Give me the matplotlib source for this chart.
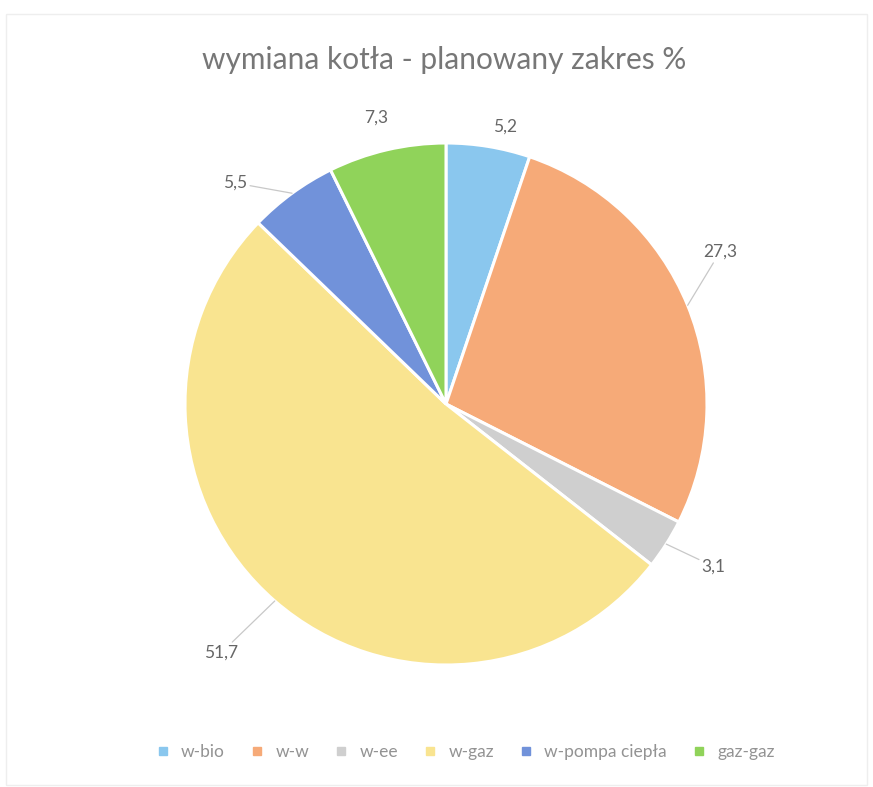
import numpy as np
import matplotlib
matplotlib.use("Agg")
import matplotlib.pyplot as plt
from matplotlib.lines import Line2D
from matplotlib.patches import Rectangle

title = "wymiana kotła - planowany zakres %"
categories = ["w-bio", "w-w", "w-ee", "w-gaz", "w-pompa ciepła", "gaz-gaz"]
values = [5.2, 27.3, 3.1, 51.7, 5.5, 7.3]
value_labels = ["5,2", "27,3", "3,1", "51,7", "5,5", "7,3"]

colors = ["#8ac7ee", "#f6aa78", "#cfcfcf", "#f9e490", "#7192da", "#90d35a"]
label_r = [1.085, 1.20, 1.20, 1.285, 1.17, 1.13]
label_dang = [-2.6, 6.8, 1.2, -1.1, 7.5, 0.5]
leader = [False, True, True, True, True, False]

W, H = 873, 787
fig = plt.figure(figsize=(W / 100, H / 100), dpi=100)
ax = fig.add_axes([0, 0, 1, 1])

cx, cy, R = 446, H - 404, 261
font = ["Lato", "DejaVu Sans"]

wedges, _ = ax.pie(values, colors=colors, startangle=90, counterclock=False,
                   center=(cx, cy), radius=R,
                   wedgeprops=dict(edgecolor="white", linewidth=2.2))
ax.set_xlim(0, W)
ax.set_ylim(0, H)
ax.set_aspect("equal")
ax.axis("off")

total = sum(values)
cum = 0
for i, v in enumerate(values):
    mid = 90 - 360 * (cum + v / 2) / total
    cum += v
    a = np.deg2rad(mid + label_dang[i])
    lx = cx + R * label_r[i] * np.cos(a)
    ly = cy + R * label_r[i] * np.sin(a)
    m = np.deg2rad(mid)
    ex = cx + R * np.cos(m)
    ey = cy + R * np.sin(m)
    if leader[i]:
        ax.annotate(value_labels[i], xy=(ex, ey), xytext=(lx, ly),
                    ha="center", va="center", fontsize=12.5, color="#666666",
                    family=font,
                    arrowprops=dict(arrowstyle="-", color="#c8c8c8", lw=0.9,
                                    shrinkA=0, shrinkB=0))
    else:
        ax.text(lx, ly, value_labels[i], ha="center", va="center",
                fontsize=12.5, color="#666666", family=font)

fig.text(0.509, 1 - 60 / H, title, ha="center", va="center", fontsize=21.5,
         color="#777777", family=font)

handles = [Line2D([], [], marker="s", linestyle="none", markersize=6,
                  markerfacecolor=c, markeredgecolor=c) for c in colors]
fig.legend(handles, categories, loc="center", bbox_to_anchor=(0.527, 1 - 752 / H),
           ncol=6, frameon=False, handletextpad=0.05,
           columnspacing=0.85, labelcolor="#939393",
           prop=dict(family=font, size=12.5))

# faint chart frame
fig.patches.append(Rectangle((6 / W, 1 - 785 / H), (W - 12) / W, (785 - 14) / H,
                             transform=fig.transFigure, fill=False,
                             edgecolor="#eeeeee", lw=1))

fig.savefig("out.png", dpi=100, facecolor="white")
